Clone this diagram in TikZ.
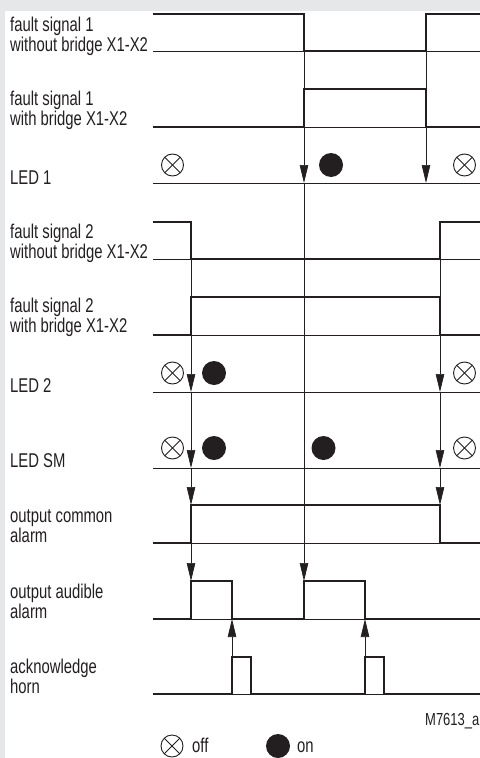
\documentclass[tikz,border=0pt]{standalone}
\usepackage{fontspec}
\setmainfont[FakeStretch=0.745]{Liberation Sans}
\usetikzlibrary{arrows.meta}
\definecolor{bggray}{RGB}{230,231,233}
\definecolor{ink}{RGB}{35,31,32}
\tikzset{
    zeroline/.style={draw=ink, line width=0.7bp},
    signal/.style={draw=ink, line width=1.5bp, line join=miter},
    eventline/.style={draw=ink, line width=0.7bp},
    trigger/.style={draw=ink, line width=0.7bp, -{Triangle[length=18bp,width=8.5bp]}},
    ledoff/.style={circle, draw=ink, line width=0.9bp, minimum size=22bp, inner sep=0pt,
        path picture={
            \draw[ink, line width=0.9bp] (path picture bounding box.north west) -- (path picture bounding box.south east);
            \draw[ink, line width=0.9bp] (path picture bounding box.north east) -- (path picture bounding box.south west);
        }},
    ledon/.style={circle, fill=ink, minimum size=24bp, inner sep=0pt},
    sigtext/.style={anchor=base west, align=left, inner sep=0pt, text=ink,
        font=\fontsize{20}{18.3}\selectfont},
    codetext/.style={anchor=base west, inner sep=0pt, text=ink,
        font=\fontsize{17.5}{18}\selectfont}
}

\begin{document}
\begin{tikzpicture}[x=1bp,y=-1bp]
	\useasboundingbox (0,0) rectangle (480,758);
	\fill[bggray] (0,0) rectangle (480,758);
	\fill[white] (5,11) rectangle (480,758);
	% zero lines
	\foreach \y in {51,127,183,259,335,392,468,543,619,694}
		\draw[zeroline] (153,\y) -- (480,\y);
	% signals
	\draw[signal] (153,14) -- (304,14) -- (304,51) -- (426,51) -- (426,14) -- (480,14);
	\draw[signal] (153,127) -- (304,127) -- (304,89) -- (426,89) -- (426,127) -- (480,127);
	\draw[signal] (153,222) -- (191,222) -- (191,259) -- (440,259) -- (440,222) -- (480,222);
	\draw[signal] (153,335) -- (191,335) -- (191,297) -- (440,297) -- (440,335) -- (480,335);
	\draw[signal] (153,543) -- (191,543) -- (191,505) -- (440,505) -- (440,543) -- (480,543);
	\draw[signal] (153,619) -- (191,619) -- (191,581) -- (232,581) -- (232,619)
		-- (304,619) -- (304,581) -- (365,581) -- (365,619) -- (480,619);
	\draw[signal] (153,694) -- (232,694) -- (232,657) -- (251,657) -- (251,694)
		-- (365,694) -- (365,657) -- (384,657) -- (384,694) -- (480,694);
	% events
	\draw[eventline] (304,51) -- (304,89);
	\draw[trigger] (304,127) -- (304,183);
	\draw[trigger] (304,183) -- (304,581);
	\draw[eventline] (426,51) -- (426,89);
	\draw[trigger] (426,127) -- (426,183);
	\draw[eventline] (191,259) -- (191,297);
	\draw[trigger] (191,335) -- (191,392);
	\draw[trigger] (191,392) -- (191,468);
	\draw[trigger] (191,468) -- (191,505);
	\draw[trigger] (191,543) -- (191,581);
	\draw[eventline] (440,259) -- (440,297);
	\draw[trigger] (440,335) -- (440,392);
	\draw[trigger] (440,392) -- (440,468);
	\draw[trigger] (440,468) -- (440,505);
	\draw[trigger] (232,657) -- (232,619);
	\draw[trigger] (365,657) -- (365,619);
	% LEDs
	\node[ledoff] (led1a) at (172.5,165) {};
	\node[ledon] (led1b) at (331,165) {};
	\node[ledoff] (led1c) at (464.5,165) {};
	\node[ledoff] (led2a) at (172.5,373) {};
	\node[ledon] (led2b) at (214,373) {};
	\node[ledoff] (led2c) at (464.5,373) {};
	\node[ledoff] (ledsma) at (172.5,448) {};
	\node[ledon] (ledsmb) at (214,448) {};
	\node[ledon] (ledsmc) at (323.5,448) {};
	\node[ledoff] (ledsmd) at (464.5,448) {};
	% labels
	\node[sigtext] (fs1a) at (10,51.5) {fault signal 1\\without bridge X1-X2};
	\node[sigtext] (fs1b) at (10,125) {fault signal 1\\with bridge X1-X2};
	\node[sigtext] (led1) at (10,184) {LED 1};
	\node[sigtext] (fs2a) at (10,258.5) {fault signal 2\\without bridge X1-X2};
	\node[sigtext] (fs2b) at (10,332) {fault signal 2\\with bridge X1-X2};
	\node[sigtext] (led2) at (10,392) {LED 2};
	\node[sigtext] (ledsm) at (10,467) {LED SM};
	\node[sigtext] (common) at (10,542) {output common\\alarm};
	\node[sigtext] (audible) at (10,618) {output audible\\alarm};
	\node[sigtext] (horn) at (10,693) {acknowledge\\horn};
	\node[codetext] (code) at (425,725) {M7613\_a};
	% legend
	\node[ledoff] (keyoff) at (172,746) {};
	\node[sigtext] (keyofftext) at (192,752) {off};
	\node[ledon] (keyon) at (278,746) {};
	\node[sigtext] (keyontext) at (297,752) {on};
\end{tikzpicture}
\end{document}
